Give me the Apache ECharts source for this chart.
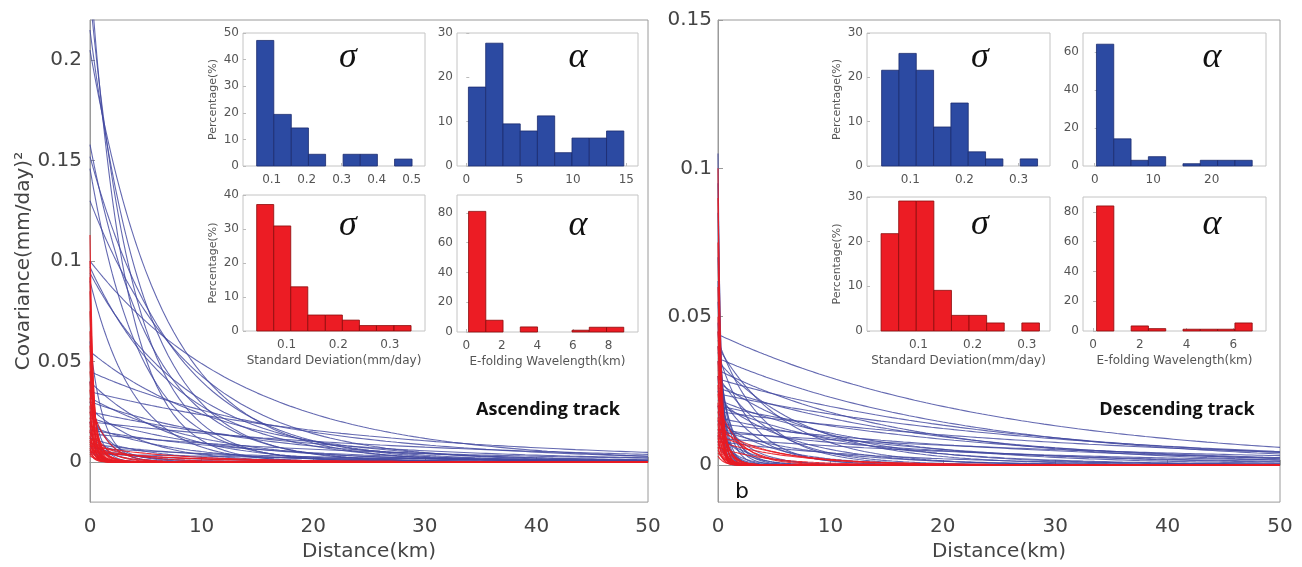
<!DOCTYPE html>
<html><head><meta charset="utf-8">
<script src="https://cdn.jsdelivr.net/npm/echarts@6/dist/echarts.min.js"></script>
<style>html,body{margin:0;padding:0;background:#fff}#c{width:1302px;height:567px}</style>
</head><body><div id="c"></div>
<script>
// ---------- DATA ----------
// Covariance model curves: [variance (mm/day)^2, e-folding length (km)]
const ascBlueCurves = [
  [0.245,3.2],[0.232,4.0],[0.215,5.0],[0.205,6.5],[0.158,5.5],[0.152,7.5],[0.146,4.5],[0.13,9.0],
  [0.10,14],[0.097,8],[0.094,9],[0.09,4],[0.055,12],[0.045,18],[0.04,7],[0.035,25],[0.032,10],
  [0.03,15],[0.027,5],[0.025,20],[0.022,12],[0.02,30],[0.018,8],[0.016,16],[0.014,25],[0.012,6],
  [0.06,1.2],[0.04,0.8],[0.03,1.5],[0.025,2],[0.02,0.5],[0.015,1],[0.012,3],[0.01,2],[0.008,4],[0.006,1],
  [0.009,12],[0.007,20],[0.005,8],[0.004,30]
];
const ascRedCurves = [
  [0.113,0.3],[0.1,0.25],[0.092,0.35],[0.085,0.2],[0.075,0.4],[0.065,0.3],[0.058,0.5],[0.05,0.35],
  [0.045,0.6],[0.04,0.25],[0.036,0.45],[0.032,0.7],[0.028,0.3],[0.025,0.5],[0.022,0.9],[0.02,0.4],
  [0.018,0.6],[0.016,0.3],[0.015,1.0],[0.013,0.5],[0.012,0.8],[0.011,0.35],[0.01,0.6],[0.009,0.45],
  [0.008,0.9],[0.007,0.3],[0.006,0.7],[0.005,0.5],[0.004,0.4],[0.003,0.8],
  [0.03,1.5],[0.02,1.3],[0.012,1.8],[0.01,3.5],[0.008,8],[0.006,7],[0.005,9]
];
const descBlueCurves = [
  [0.044,25],[0.036,22],[0.032,17],[0.029,26],[0.026,20],[0.024,30],[0.022,14],[0.02,24],
  [0.018,35],[0.016,18],[0.014,28],[0.012,22],[0.011,40],[0.009,30],[0.008,15],
  [0.042,4],[0.04,6],[0.038,3],[0.035,8],[0.03,5],[0.028,10],[0.025,3.5],[0.022,7],[0.02,12],
  [0.018,2.5],[0.015,5],[0.012,9],[0.01,3],
  [0.105,0.25],[0.095,0.3],[0.085,0.2],[0.07,0.4],[0.062,0.35],[0.055,0.5],[0.048,0.6],[0.045,0.8],
  [0.04,1.0],[0.035,1.2],[0.03,0.5],[0.025,1.5],[0.02,0.8],[0.015,1.0],[0.012,2],[0.01,1.5],[0.008,0.7]
];
const descRedCurves = [
  [0.1,0.2],[0.09,0.3],[0.075,0.25],[0.06,0.35],[0.05,0.3],[0.045,0.4],[0.04,0.5],[0.035,0.3],
  [0.03,0.6],[0.027,0.4],[0.024,0.7],[0.021,0.35],[0.018,0.8],[0.016,0.5],[0.014,0.4],[0.012,0.9],
  [0.011,0.6],[0.01,0.3],[0.009,0.7],[0.008,0.5],[0.007,0.8],[0.006,0.4],[0.005,0.6],[0.004,0.9],
  [0.003,0.5],[0.02,2],[0.015,2.5],[0.012,5],[0.01,6],[0.008,6.5],[0.006,4.5]
];

// Histograms: bin edges and percentages (%)
const ascBlueSigmaEdges = [0.057,0.106,0.156,0.205,0.254,0.304,0.353,0.402,0.451,0.501];
const ascBlueSigmaPct   = [47.2,19.4,14.3,4.4,0,4.4,4.4,0,2.6];
const ascBlueAlphaEdges = [0.2,1.82,3.44,5.06,6.67,8.29,9.91,11.53,13.15,14.77];
const ascBlueAlphaPct   = [17.8,27.7,9.5,7.9,11.3,3.0,6.3,6.3,7.9];
const ascRedSigmaEdges  = [0.042,0.075,0.108,0.141,0.175,0.208,0.241,0.274,0.308,0.341];
const ascRedSigmaPct    = [37.2,30.9,13.0,4.7,4.7,3.2,1.6,1.6,1.6];
const ascRedAlphaEdges  = [0.13,1.1,2.07,3.04,4.01,4.98,5.95,6.92,7.89,8.86];
const ascRedAlphaPct    = [81,7.9,0,3.4,0,0,1.2,3.2,3.2];
const descBlueSigmaEdges = [0.047,0.079,0.111,0.143,0.175,0.207,0.239,0.271,0.303,0.335];
const descBlueSigmaPct   = [21.6,25.4,21.6,8.8,14.2,3.2,1.6,0,1.6];
const descBlueAlphaEdges = [0.3,3.26,6.22,9.18,12.14,15.1,18.06,21.02,23.98,26.94];
const descBlueAlphaPct   = [64.1,14.3,3.0,4.9,0,1.2,3.0,3.0,3.0];
const descRedSigmaEdges  = [0.031,0.0635,0.096,0.1285,0.161,0.1935,0.226,0.2585,0.291,0.3235];
const descRedSigmaPct    = [21.8,29.1,29.1,9.1,3.5,3.5,1.8,0,1.8];
const descRedAlphaEdges  = [0.15,0.89,1.63,2.37,3.11,3.85,4.59,5.33,6.07,6.81];
const descRedAlphaPct    = [84,0,3.4,1.6,0,1.2,1.2,1.2,5.4];

// Tick labels
const distTicks = [0,10,20,30,40,50];
const ascCovTicks = [0,0.05,0.1,0.15,0.2];
const descCovTicks = [0,0.05,0.1,0.15];
const ascSigmaTicksTop = [0.1,0.2,0.3,0.4,0.5];
const ascAlphaTicksTop = [0,5,10,15];
const ascSigmaTicksBot = [0.1,0.2,0.3];
const ascAlphaTicksBot = [0,2,4,6,8];
const descSigmaTicks = [0.1,0.2,0.3];
const descAlphaTicksTop = [0,10,20];
const descAlphaTicksBot = [0,2,4,6];
const pct50 = [0,10,20,30,40,50], pct40 = [0,10,20,30,40], pct30 = [0,10,20,30];
const pct60 = [0,20,40,60], pct80 = [0,20,40,60,80];

// ---------- CHART ----------
const FONT = 'DejaVu Sans';
const fmt = v => String(+(+v).toFixed(4));
// evaluation distances for the exponential covariance model
const sampleDist = [];
for (let i = 0; i < 50; i++) sampleDist.push(i * 0.02);
for (let i = 0; i < 40; i++) sampleDist.push(1 + i * 0.1);
for (let i = 0; i <= 90; i++) sampleDist.push(5 + i * 0.5);

const grids = [
  {left:90, top:20, width:558, height:490},
  {left:718, top:20, width:562, height:490},
  {left:243, top:33, width:182, height:133},
  {left:457, top:33, width:181, height:133},
  {left:243, top:195, width:182, height:136},
  {left:457, top:195, width:181, height:137},
  {left:867, top:33, width:183, height:133},
  {left:1083, top:33, width:183, height:133},
  {left:867, top:197, width:183, height:134},
  {left:1083, top:197, width:183, height:134}
].map((g, i) => Object.assign(g, i < 2
  ? {show:true, borderColor:'#9a9a9a', borderWidth:1, z:0}
  : {show:true, borderColor:'#c4c4c4', borderWidth:1, backgroundColor:'#fff', z:10}));

const xAxes = [], yAxes = [];
function mainAxes(gi, ymin, ymax, yticks, yname) {
  xAxes.push({gridIndex:gi, type:'value', min:0, max:50, interval:10,
    axisLine:{show:true, lineStyle:{color:'#9a9a9a'}},
    axisTick:{show:true, inside:true, length:5, customValues:distTicks, lineStyle:{color:'#9a9a9a'}},
    axisLabel:{customValues:distTicks, formatter:fmt, fontSize:20, color:'#444', margin:15, fontFamily:FONT},
    splitLine:{show:false},
    name:'Distance(km)', nameLocation:'middle', nameGap:19,
    nameTextStyle:{fontSize:20, color:'#444', fontFamily:FONT}});
  yAxes.push({gridIndex:gi, type:'value', min:ymin, max:ymax,
    axisLine:{show:true, lineStyle:{color:'#9a9a9a'}},
    axisTick:{show:true, inside:true, length:5, customValues:yticks, lineStyle:{color:'#9a9a9a'}},
    axisLabel:{customValues:yticks, formatter:fmt, fontSize:20, color:'#444', margin:gi === 0 ? 8 : 6, fontFamily:FONT},
    splitLine:{show:false},
    name:yname, nameLocation:'middle', nameGap:48,
    nameTextStyle:{fontSize:20, color:'#444', fontFamily:FONT}});
}
function insetAxes(gi, xmin, xmax, xticks, ymax, yticks, xname, yname) {
  xAxes.push({gridIndex:gi, type:'value', min:xmin, max:xmax, z:11,
    axisLine:{show:false},
    axisTick:{show:true, inside:true, length:3, customValues:xticks, lineStyle:{color:'#bbb'}},
    axisLabel:{customValues:xticks, formatter:fmt, fontSize:12, color:'#555', margin:8, fontFamily:FONT},
    splitLine:{show:false},
    name:xname, nameLocation:'middle', nameGap:24,
    nameTextStyle:{fontSize:12, color:'#555', fontFamily:FONT}});
  yAxes.push({gridIndex:gi, type:'value', min:0, max:ymax, z:11,
    axisLine:{show:false},
    axisTick:{show:true, inside:true, length:3, customValues:yticks, lineStyle:{color:'#bbb'}},
    axisLabel:{customValues:yticks, formatter:fmt, fontSize:12, color:'#555', margin:4, fontFamily:FONT},
    splitLine:{show:false},
    name:yname, nameLocation:'middle', nameGap:24,
    nameTextStyle:{fontSize:11, color:'#555', fontFamily:FONT}});
}
mainAxes(0, -0.02, 0.22, ascCovTicks, 'Covariance(mm/day)²');
mainAxes(1, -0.0125, 0.15, descCovTicks, '');
insetAxes(2, 0.018, 0.538, ascSigmaTicksTop, 50, pct50, '', 'Percentage(%)');
insetAxes(3, -0.87, 16.1, ascAlphaTicksTop, 30, pct30, '', '');
insetAxes(4, 0.0155, 0.368, ascSigmaTicksBot, 40, pct40, 'Standard Deviation(mm/day)', 'Percentage(%)');
insetAxes(5, -0.52, 9.66, ascAlphaTicksBot, 92, pct80, 'E-folding Wavelength(km)', '');
insetAxes(6, 0.020, 0.358, descSigmaTicks, 30, pct30, '', 'Percentage(%)');
insetAxes(7, -2.0, 29.3, descAlphaTicksTop, 70, pct60, '', '');
insetAxes(8, 0.005, 0.343, descSigmaTicks, 30, pct30, 'Standard Deviation(mm/day)', 'Percentage(%)');
insetAxes(9, -0.43, 7.4, descAlphaTicksBot, 90, pct80, 'E-folding Wavelength(km)', '');

const series = [];
const BLUE_LINE = 'rgba(66,72,160,0.82)', RED_LINE = 'rgba(232,28,36,0.9)';
function addCurves(curves, gi, color) {
  curves.forEach(([v, L]) => {
    series.push({type:'line', xAxisIndex:gi, yAxisIndex:gi, showSymbol:false, silent:true,
      z:2, clip:true, lineStyle:{color, width:1.1},
      data: sampleDist.map(d => [d, v * Math.exp(-d / L)])});
  });
}
addCurves(ascBlueCurves, 0, BLUE_LINE);
addCurves(ascRedCurves, 0, RED_LINE);
addCurves(descBlueCurves, 1, BLUE_LINE);
addCurves(descRedCurves, 1, RED_LINE);

function addHist(gi, edges, pct, fill, stroke) {
  const data = pct.map((p, i) => [edges[i], edges[i + 1], p]);
  series.push({type:'custom', xAxisIndex:gi, yAxisIndex:gi, z:12, silent:true,
    data,
    renderItem: (params, api) => {
      const h = api.value(2);
      if (!h) return null;
      const p0 = api.coord([api.value(0), h]);
      const p1 = api.coord([api.value(1), 0]);
      return {type:'rect', shape:{x:p0[0], y:p0[1], width:p1[0]-p0[0], height:p1[1]-p0[1]},
        style:{fill, stroke, lineWidth:0.8}};
    }});
}
const BLUE_BAR = '#2c4aa2', BLUE_EDGE = '#1a2b6e', RED_BAR = '#ec1c24', RED_EDGE = '#8c0a0a';
addHist(2, ascBlueSigmaEdges, ascBlueSigmaPct, BLUE_BAR, BLUE_EDGE);
addHist(3, ascBlueAlphaEdges, ascBlueAlphaPct, BLUE_BAR, BLUE_EDGE);
addHist(4, ascRedSigmaEdges, ascRedSigmaPct, RED_BAR, RED_EDGE);
addHist(5, ascRedAlphaEdges, ascRedAlphaPct, RED_BAR, RED_EDGE);
addHist(6, descBlueSigmaEdges, descBlueSigmaPct, BLUE_BAR, BLUE_EDGE);
addHist(7, descBlueAlphaEdges, descBlueAlphaPct, BLUE_BAR, BLUE_EDGE);
addHist(8, descRedSigmaEdges, descRedSigmaPct, RED_BAR, RED_EDGE);
addHist(9, descRedAlphaEdges, descRedAlphaPct, RED_BAR, RED_EDGE);

const greek = (t, x, y) => ({type:'text', x, y, z:20, style:{text:t, fill:'#111',
  font:'italic 36px "Liberation Serif", serif', textAlign:'center', textVerticalAlign:'middle'}});
const graphic = [
  greek('σ', 348, 58), greek('α', 578, 58), greek('σ', 348, 226), greek('α', 578, 226),
  greek('σ', 980, 58), greek('α', 1212, 58), greek('σ', 980, 225), greek('α', 1212, 225),
  {type:'text', x:548, y:410, z:20, style:{text:'Ascending track', fill:'#111',
    font:'bold 18px "Open Sans"', textAlign:'center', textVerticalAlign:'middle'}},
  {type:'text', x:1177, y:410, z:20, style:{text:'Descending track', fill:'#111',
    font:'bold 18px "Open Sans"', textAlign:'center', textVerticalAlign:'middle'}},
  {type:'text', x:742, y:492, z:20, style:{text:'b', fill:'#111',
    font:'22px "DejaVu Sans"', textAlign:'center', textVerticalAlign:'middle'}}
];

const chart = echarts.init(document.getElementById('c'), null, {renderer:'canvas'});
chart.setOption({animation:false, backgroundColor:'#fff', grid:grids, xAxis:xAxes, yAxis:yAxes, series, graphic});
</script></body></html>
